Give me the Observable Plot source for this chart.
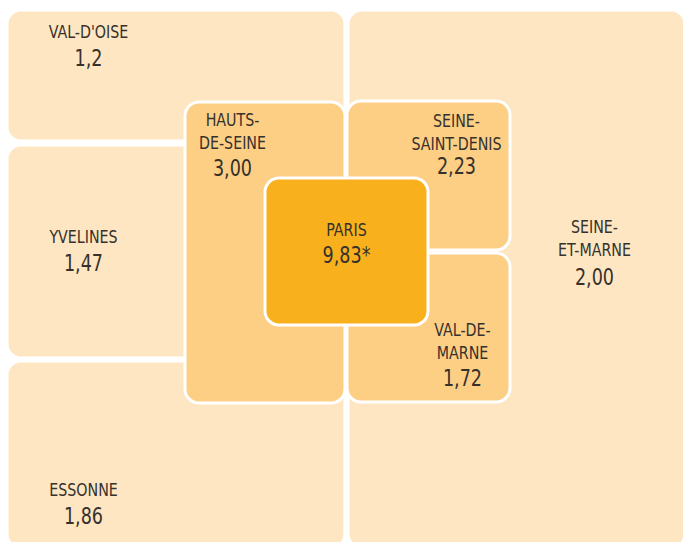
<!DOCTYPE html>
<html><head><meta charset="utf-8">
<script src="https://cdn.jsdelivr.net/npm/d3@7"></script>
<script src="https://cdn.jsdelivr.net/npm/@observablehq/plot@0.6"></script>
<style>
body{margin:0;background:#fff;}
#chart svg{display:block;}
</style>
</head><body><div id="chart"></div>
<script>
// Departments of Île-de-France and their values
const departments = ["VAL-D'OISE","YVELINES","ESSONNE","SEINE-ET-MARNE","HAUTS-DE-SEINE","SEINE-SAINT-DENIS","VAL-DE-MARNE","PARIS"];
const nameLines = ["VAL-D'OISE","YVELINES","ESSONNE","SEINE-\nET-MARNE","HAUTS-\nDE-SEINE","SEINE-\nSAINT-DENIS","VAL-DE-\nMARNE","PARIS"];
const valueLabels = ["1,2","1,47","1,86","2,00","3,00","2,23","1,72","9,83*"];
const ring = ["outer","outer","outer","outer","inner","inner","inner","core"];

// Schematic layout (tile bounds in map units)
const layout = [
  {x1:7,   x2:345, y1:10,  y2:141, lx:88,  ly:30,  vy:58},
  {x1:7,   x2:345, y1:145, y2:358, lx:83,  ly:235, vy:263},
  {x1:7,   x2:345, y1:361, y2:548, lx:83,  ly:488, vy:516},
  {x1:348, x2:685, y1:10,  y2:548, lx:594, ly:237, vy:277},
  {x1:185, x2:345, y1:102, y2:403, lx:232, ly:130, vy:168},
  {x1:347, x2:510, y1:101, y2:250, lx:456, ly:131, vy:166},
  {x1:347, x2:510, y1:253, y2:402, lx:462, ly:340, vy:378},
  {x1:265, x2:428, y1:178, y2:325, lx:346, ly:228, vy:255}
];
const fills = {outer:"#fee6c2", inner:"#fdcf85", core:"#f9b01d"};

const tiles = departments.map((d,i)=>({
  name:d, label:nameLines[i], value:valueLabels[i], ring:ring[i], ...layout[i]
}));
const font = "'DejaVu Sans Condensed','Liberation Sans Narrow',sans-serif";

const chart = Plot.plot({
  width:683, height:542,
  margin:0,
  style:{fontFamily:font, background:"#fff"},
  x:{domain:[0,683], range:[0,683], axis:null},
  y:{domain:[0,542], range:[0,542], axis:null},
  color:{domain:Object.keys(fills), range:Object.values(fills)},
  marks:[
    Plot.rect(tiles,{x1:"x1",x2:"x2",y1:"y1",y2:"y2",fill:"ring",stroke:"white",strokeWidth:3,rx:14}),
    Plot.text(tiles,{x:"lx",y:"ly",text:"label",fontSize:18,lineHeight:1.25,lineAnchor:"middle",fill:"#36312c"}),
    Plot.text(tiles,{x:"lx",y:"vy",text:"value",fontSize:23,fill:"#36312c"})
  ]
});
// condense the glyphs horizontally (narrow typeface look)
const groups = chart.querySelectorAll('g[aria-label="text"]');
const squeeze = [0.88, 0.85];
groups.forEach((g,gi)=>{
  g.querySelectorAll("text").forEach(el=>{
    const s = squeeze[gi] ?? 0.88;
    const t = el.getAttribute("transform");
    if (t) el.setAttribute("transform", t + ` scale(${s},1)`);
    else {
      const x = +el.getAttribute("x")||0, y = +el.getAttribute("y")||0;
      el.removeAttribute("x"); el.removeAttribute("y");
      el.querySelectorAll("tspan").forEach(ts=>ts.setAttribute("x",0));
      el.setAttribute("transform",`translate(${x},${y}) scale(${s},1)`);
    }
  });
});
document.getElementById("chart").append(chart);
</script>
</body></html>
